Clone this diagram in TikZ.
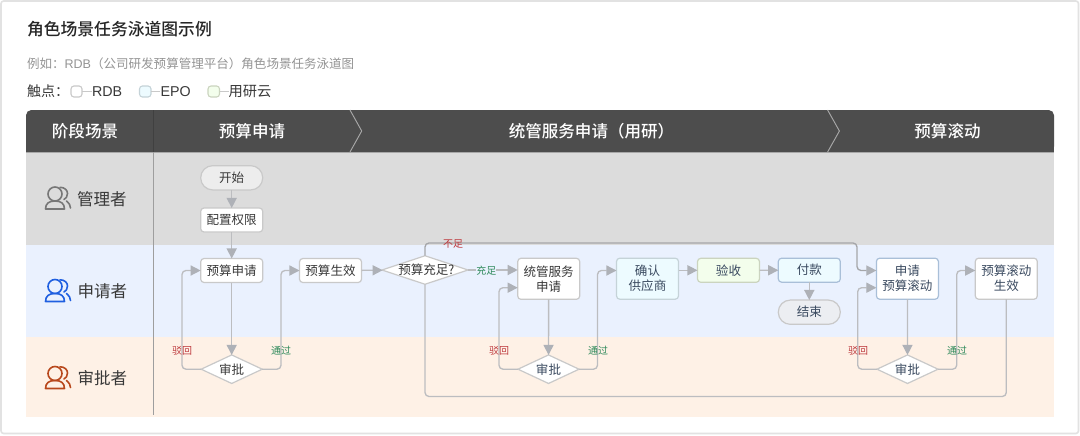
\documentclass[tikz,border=0pt]{standalone}
\usepackage{fontspec}
\setmainfont{Noto Sans CJK SC}
\newfontfamily\latinf{Liberation Sans}
\newfontfamily\medf{Noto Sans CJK SC}[UprightFont=* Medium]
\usetikzlibrary{arrows.meta,shapes.geometric}
\definecolor{cardline}{HTML}{E2E2E2}
\definecolor{headbg}{HTML}{4D4D4D}
\definecolor{headline}{HTML}{A8A8A8}
\definecolor{lanegray}{HTML}{DCDCDC}
\definecolor{laneblue}{HTML}{EAF1FE}
\definecolor{laneorange}{HTML}{FEF1E6}
\definecolor{edgec}{HTML}{BCBDC0}
\definecolor{arrowc}{HTML}{AEB1B7}
\definecolor{boxline}{HTML}{C9C9C9}
\definecolor{txt}{HTML}{383838}
\definecolor{navy}{HTML}{3A4A60}
\definecolor{redl}{HTML}{BE3B3F}
\definecolor{greenl}{HTML}{2F8A5B}
\definecolor{epofill}{HTML}{EDFBFF}
\definecolor{yyfill}{HTML}{F3FEEC}
\definecolor{endfill}{HTML}{ECEEF2}
\definecolor{epoline}{HTML}{C5D3D8}
\definecolor{yyline}{HTML}{CBD4BF}
\definecolor{blueline}{HTML}{A9BFD8}
\definecolor{iconb}{HTML}{1F5FE0}
\definecolor{icono}{HTML}{B8481C}
\definecolor{icong}{HTML}{777777}
\newcommand{\fs}[1]{\fontsize{#1}{1.2\dimexpr#1\relax}\selectfont}
\tikzset{
  x=0.75pt,y=-0.75pt,
  every node/.style={inner sep=0pt,outer sep=0pt,align=center},
  boxn/.style={draw=boxline,line width=0.9pt,fill=white,rounded corners=2.5pt,text=txt,font=\fs{9.4pt}},
  box/.style={boxn,minimum width=46.5pt,minimum height=18pt},
  tallbox/.style={boxn,minimum width=46.5pt,minimum height=30.8pt},
  pill/.style={boxn,rounded corners=9pt,minimum width=46.5pt,minimum height=18.2pt},
  dia/.style={diamond,draw=boxline,line width=0.9pt,fill=white},
  dlab/.style={text=txt,font=\fs{9.4pt}},
  flow/.style={draw=edgec,line width=1pt,rounded corners=3pt,-{Triangle[length=7.6pt,width=7.6pt,color=arrowc]}},
  flowplain/.style={draw=edgec,line width=1pt,rounded corners=3pt},
  rej/.style={text=redl,font=\fs{7.5pt}},
  pass/.style={text=greenl,font=\fs{7.5pt}},
  headt/.style={text=white,font=\fs{12.4pt}\medf},
  lanet/.style={text=txt,font=\fs{12.4pt},anchor=west},
  chev/.style={draw=headline,line width=0.7pt},
  ic/.style={line width=1.2pt,line cap=round,line join=round},
}
\newcommand{\personicon}[3]{%
  \begin{scope}[shift={(#1,#2)},ic,draw=#3]
    \draw (0,-4.5) circle[radius=7];
    \draw (-9.5,10.5) .. controls (-9.5,5) and (-6,2.5) .. (0,2.5) .. controls (6,2.5) and (9.5,5) .. (9.5,10.5) -- cycle;
    \draw (5,-11.2) .. controls (10,-11.2) and (12.5,-8) .. (12.5,-5) .. controls (12.5,-2) and (11,0) .. (9,1);
    \draw (11.5,2.5) .. controls (14,4.5) and (15.5,6.5) .. (15.5,9.5);
  \end{scope}}
\begin{document}
\begin{tikzpicture}
\useasboundingbox (0,0) rectangle (1080,435);
\fill[white] (0,0) rectangle (1080,435);
\draw[cardline,line width=1.2pt,rounded corners=2pt] (1,1) rectangle (1078.5,433.5);
% title
\node[anchor=west,text=black!85,font=\fs{12.6pt}\medf] (title) at (27,29) {角色场景任务泳道图示例};
\node[anchor=west,text=black!42,font=\fs{9.4pt}] (sub) at (27,64) {例如：{\latinf RDB}（公司研发预算管理平台）角色场景任务泳道图};
% legend
\node[anchor=west,text=txt,font=\fs{10.5pt}] (lg) at (27,91.5) {触点：};
\draw[boxline,line width=0.8pt,fill=white,rounded corners=2.2pt] (71,86) rectangle (82,97);
\draw[boxline,line width=0.7pt] (82,91.5) -- (92,91.5);
\node[anchor=west,text=txt,font=\fs{10.7pt}\latinf] (l1) at (92,91.5) {RDB};
\draw[epoline,line width=0.8pt,fill=epofill,rounded corners=2.2pt] (139.5,86) rectangle (151,97);
\draw[boxline,line width=0.7pt] (151,91.5) -- (160,91.5);
\node[anchor=west,text=txt,font=\fs{10.7pt}\latinf] (l2) at (160.5,91.5) {EPO};
\draw[yyline,line width=0.8pt,fill=yyfill,rounded corners=2.2pt] (208,86) rectangle (219.5,97);
\draw[boxline,line width=0.7pt] (219.5,91.5) -- (229,91.5);
\node[anchor=west,text=txt,font=\fs{10.7pt}] (l3) at (228.5,91.5) {用研云};
% lanes
\fill[lanegray] (26,152) rectangle (1054,245);
\fill[laneblue] (26,245) rectangle (1054,337);
\fill[laneorange] (26,337) rectangle (1054,417);
% header
\fill[headbg,rounded corners=4pt] (26,152) -- (26,110) -- (1054,110) -- (1054,152) -- cycle;
\fill[headbg] (26,140) rectangle (1054,152);
\draw[headline,line width=0.5pt] (26,152.3) -- (1054,152.3);
\draw[chev] (350,110) -- (361.7,131) -- (350,152);
\draw[chev] (827.6,110) -- (839.4,131) -- (827.6,152);
\draw[black!75,line width=0.85pt] (153.5,110) -- (153.5,152);
\draw[black!38,line width=0.9pt] (153.5,152) -- (153.5,415);
\node[headt] (h0) at (85,131.5) {阶段场景};
\node[headt] (h1) at (252,131.5) {预算申请};
\node[headt] (h2) at (591.5,131.5) {统管服务申请（用研）};
\node[headt] (h3) at (947.5,131.5) {预算滚动};
% lane labels
\personicon{55}{198.5}{icong}
\personicon{55}{291}{iconb}
\personicon{55}{378}{icono}
\node[lanet] (a1) at (77,199.5) {管理者};
\node[lanet] (a2) at (77.5,291.5) {申请者};
\node[lanet] (a3) at (77.5,378.5) {审批者};
% nodes
\node[pill,fill=black!7] (start) at (231.7,177.8) {开始};
\node[box] (perm) at (231.7,220) {配置权限};
\node[box] (apply) at (231.7,270.5) {预算申请};
\node[box] (eff) at (330.5,270.5) {预算生效};
\node[dia,minimum width=64.5pt,minimum height=21.4pt,label={[dlab,xshift=1pt]center:预算充足?}] (enough) at (425,270) {};
\node[tallbox] (tg) at (548.7,278.8) {统管服务\\申请};
\node[tallbox,fill=epofill,draw=epoline,text=navy] (sup) at (647.5,278.7) {确认\\供应商};
\node[box,fill=yyfill,draw=yyline,text=navy] (chk) at (728.5,270.3) {验收};
\node[box,fill=epofill,draw=blueline,text=navy] (pay) at (809.3,270.2) {付款};
\node[pill,fill=endfill,text=navy] (end) at (809.3,312.2) {结束};
\node[tallbox,draw=blueline,text=navy] (roll) at (907.4,278.7) {申请\\预算滚动};
\node[tallbox,text=navy] (rolleff) at (1006.3,278.7) {预算滚动\\生效};
\node[dia,minimum width=45.8pt,minimum height=21.4pt,label={[dlab]center:审批}] (ap1) at (231.7,369.2) {};
\node[dia,minimum width=45.8pt,minimum height=21.4pt,label={[dlab,text=navy]center:审批}] (ap2) at (548.5,369.2) {};
\node[dia,minimum width=45.8pt,minimum height=21.4pt,label={[dlab,text=navy]center:审批}] (ap3) at (907.5,369.2) {};
% connectors
\draw[flow] (start) -- (perm);
\draw[flow] (perm) -- (apply);
\draw[flow] (apply) -- (ap1);
\draw[flow] (ap1.west) -- (182,369.2) -- (182,270.5) -- (apply.west);
\draw[flow] (ap1.east) -- (281,369.2) -- (281,270.5) -- (eff.west);
\draw[flow] (eff) -- (enough);
\draw[flow] (enough.east) -- (tg.west |- enough.east);
\node[pass,fill=laneblue,inner xsep=0pt,inner ysep=1pt] (ok) at (486.3,271) {充足};
\draw[flow,draw=edgec!88!black] (enough.north) -- (425,243) -- (857,243) -- (857,270.5) -- (roll.west |- 0,270.5);
\node[rej] (no) at (453,243.5) {不足};
\draw[flowplain] (rolleff.south) -- (1006.3,396.5) -- (425,396.5) -- (enough.south);
\draw[flow] (tg) -- (ap2);
\draw[flow] (ap2.west) -- (499,369.2) -- (499,287.7) -- (tg.west |- 0,287.7);
\draw[flow] (ap2.east) -- (597.5,369.2) -- (597.5,270.5) -- (sup.west |- 0,270.5);
\draw[flow] (sup.east |- chk.west) -- (chk.west);
\draw[flow] (chk) -- (pay);
\draw[flow] (pay) -- (end);
\draw[flow] (roll) -- (ap3);
\draw[flow] (ap3.west) -- (857.7,369.2) -- (857.7,287.7) -- (roll.west |- 0,287.7);
\draw[flow] (ap3.east) -- (956.7,369.2) -- (956.7,270.5) -- (rolleff.west |- 0,270.5);
% edge labels
\node[rej] (r1) at (182,350.7) {驳回};
\node[pass] (p1) at (281,350.7) {通过};
\node[rej] (r2) at (499,350.7) {驳回};
\node[pass] (p2) at (598,350.7) {通过};
\node[rej] (r3) at (858,350.7) {驳回};
\node[pass] (p3) at (957,350.7) {通过};
\end{tikzpicture}
\end{document}
